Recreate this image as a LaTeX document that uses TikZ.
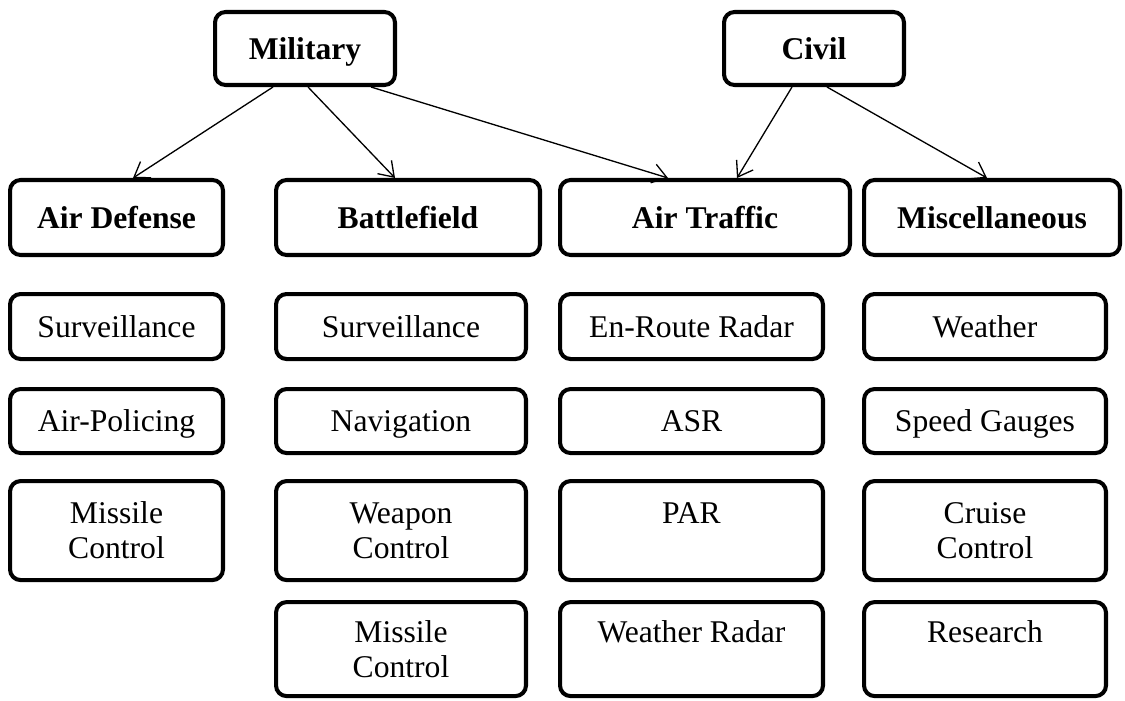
\documentclass[tikz,border=0pt]{standalone}
\usepackage{fontspec}
\setmainfont{Liberation Serif}
\usetikzlibrary{positioning, arrows.meta}
\newcommand\boxstrut{\rule[-4pt]{0pt}{20pt}} % keeps one-line texts at the same height
\tikzset{
    x=0.02cm, y=-0.02cm, % one unit is one pixel of the layout
    box/.style={draw, line width=2.3pt, rounded corners=6pt, align=center, inner sep=2pt, font=\fontsize{18}{20}\selectfont}, % every framed text
    single/.style={box, execute at begin node=\boxstrut},
    top/.style={single, font=\fontsize{18}{20}\selectfont\bfseries, minimum width=3.6cm, minimum height=1.46cm}, % the two roots
    head/.style={single, font=\fontsize{18}{20}\selectfont\bfseries, minimum height=1.5cm}, % the four areas
    rowa/.style={single, minimum height=1.3cm},
    rowb/.style={single, minimum height=1.28cm},
    rowc/.style={box, minimum height=1.98cm},
    rowd/.style={box, minimum height=1.88cm},
    arrow/.style={line width=0.75pt, -{Straight Barb[length=8pt, width=11pt]}}, % thin open arrow
}
\begin{document}
\begin{tikzpicture}
    \useasboundingbox (0,0) rectangle (1125,700);
    \node[top] (mil) at (305,48.5) {Military};
    \node[top] (civ) at (814,48.5) {Civil};
    \node[head, minimum width=4.26cm] (ad) at (116.5,217.5) {Air Defense};
    \node[head, minimum width=5.28cm] (bf) at (408,217.5) {Battlefield};
    \node[head, minimum width=5.8cm] (at) at (705,217.5) {Air Traffic};
    \node[head, minimum width=5.12cm] (misc) at (992,217.5) {Miscellaneous};
    % air defense
    \node[rowa, minimum width=4.26cm, below=0.7cm of ad.south west, anchor=north west] (ad1) {Surveillance};
    \node[rowb, minimum width=4.26cm, below=0.52cm of ad1.south west, anchor=north west] (ad2) {Air-Policing};
    \node[rowc, minimum width=4.26cm, below=0.48cm of ad2.south west, anchor=north west] (ad3) {Missile\\Control};
    % battlefield
    \node[rowa, minimum width=5cm, below=0.7cm of bf.south west, anchor=north west] (bf1) {Surveillance};
    \node[rowb, minimum width=5cm, below=0.52cm of bf1.south west, anchor=north west] (bf2) {Navigation};
    \node[rowc, minimum width=5cm, below=0.48cm of bf2.south west, anchor=north west] (bf3) {Weapon\\Control};
    \node[rowd, minimum width=5cm, below=0.36cm of bf3.south west, anchor=north west] (bf4) {Missile\\Control};
    % air traffic
    \node[rowa, minimum width=5.26cm, below=0.7cm of at.south west, anchor=north west] (at1) {En-Route Radar};
    \node[rowb, minimum width=5.26cm, below=0.52cm of at1.south west, anchor=north west] (at2) {ASR};
    \node[rowc, minimum width=5.26cm, below=0.48cm of at2.south west, anchor=north west] (at3) {PAR\\~};
    \node[rowd, minimum width=5.26cm, below=0.36cm of at3.south west, anchor=north west] (at4) {Weather Radar\\~};
    % miscellaneous
    \node[rowa, minimum width=4.84cm, below=0.7cm of misc.south west, anchor=north west] (misc1) {Weather};
    \node[rowb, minimum width=4.84cm, below=0.52cm of misc1.south west, anchor=north west] (misc2) {Speed Gauges};
    \node[rowc, minimum width=4.84cm, below=0.48cm of misc2.south west, anchor=north west] (misc3) {Cruise\\Control};
    \node[rowd, minimum width=4.84cm, below=0.36cm of misc3.south west, anchor=north west] (misc4) {Research\\~};
    \draw[arrow] ([xshift=-0.64cm]mil.south) -- ([xshift=0.33cm]ad.north);
    \draw[arrow] ([xshift=0.06cm]mil.south) -- ([xshift=-0.26cm]bf.north);
    \draw[arrow] ([xshift=1.32cm]mil.south) -- ([xshift=-0.74cm]at.north);
    \draw[arrow] ([xshift=-0.44cm]civ.south) -- ([xshift=0.64cm]at.north);
    \draw[arrow] ([xshift=0.26cm]civ.south) -- ([xshift=-0.1cm]misc.north);
\end{tikzpicture}
\end{document}
